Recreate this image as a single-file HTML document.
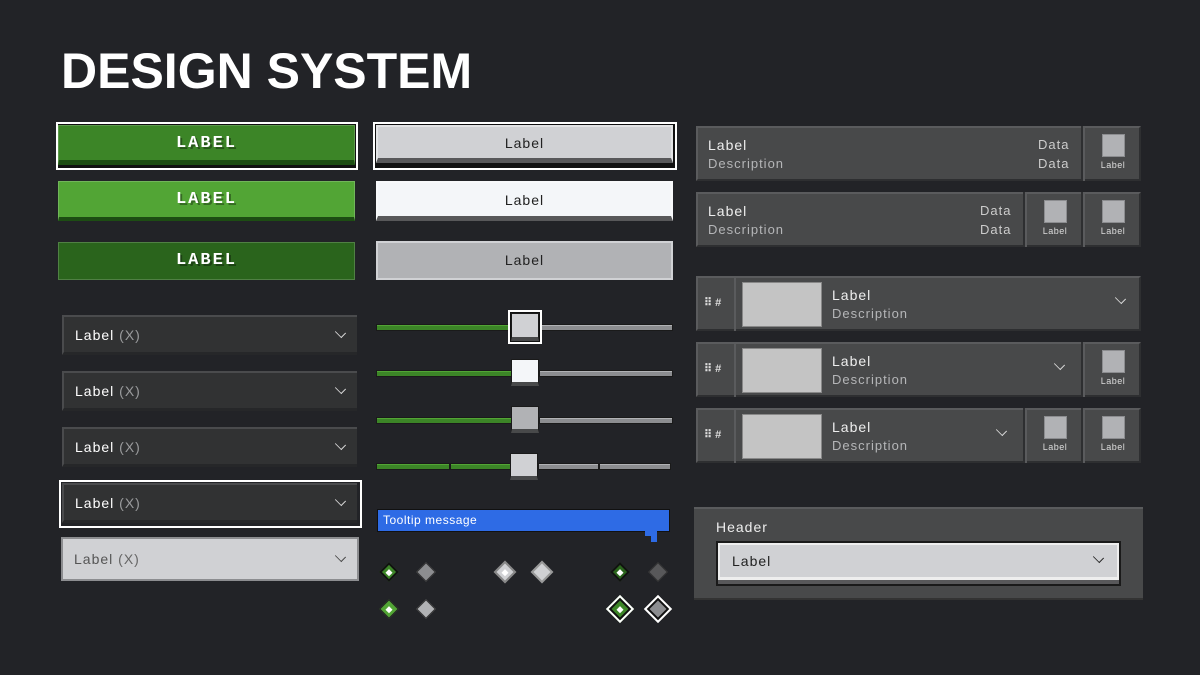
<!DOCTYPE html>
<html><head><meta charset="utf-8"><style>
*{box-sizing:border-box;margin:0;padding:0}
body{width:1200px;height:675px;background:#222327;position:relative;overflow:hidden;font-family:"Liberation Sans",sans-serif;color:#fff}
.a{position:absolute}
.title{left:61px;top:46px;font-size:50px;font-weight:bold;line-height:50px;letter-spacing:0}
.gb{position:absolute;left:58px;width:297px;text-align:center;font-weight:bold;font-size:17px;letter-spacing:2px;font-family:"Liberation Mono",monospace;text-shadow:2px 2px 0 rgba(0,0,0,.35);border:1px solid rgba(255,255,255,.18)}
.wb{position:absolute;left:376px;width:297px;text-align:center;font-size:14px;color:#222;letter-spacing:1px;border:2px solid rgba(255,255,255,.4)}
.dd{position:absolute;left:62px;width:295px;height:40px;background:#313233;border-top:2px solid #4a4b4d;border-left:2px solid #4a4b4d;border-bottom:3px solid #262729;font-size:14px;letter-spacing:1px;line-height:36px;padding-left:11px}
.dd span{color:#9a9b9d}
.chev{position:absolute;right:12px;top:11px;width:9px;height:9px;border-right:1.5px solid #ddd;border-bottom:1.5px solid #ddd;transform:rotate(45deg) scale(1,.75)}
.trk{position:absolute;height:7px;border:1px solid #1a1a1a}
.g{background:#3c8527;box-shadow:inset 0 1px 0 #52a535}
.gr{background:#8c8d90;box-shadow:inset 0 1px 0 #b1b2b5}
.th{position:absolute;width:28px;height:26px;border:1px solid #1a1a1a;border-bottom:4px solid #48494a}
.row{position:absolute;left:696px;width:445px;height:55px;background:#48494a;border:2px solid #5a5b5d;border-bottom-color:#2e2f31;border-right-color:#2e2f31}
.l1{position:absolute;font-size:14px;letter-spacing:1px;color:#eee}
.l2{position:absolute;font-size:13px;letter-spacing:1px;color:#b5b6b8}
.cell{position:absolute;top:-2px;height:55px;width:58px;border-left:2px solid #5a5b5d;box-shadow:-2px 0 0 #2e2f31}
.cell i{position:absolute;left:17px;top:8px;width:23px;height:23px;background:#b1b2b5;border:1px solid #8c8d90}
.cell b{position:absolute;width:100%;top:34px;text-align:center;font-size:9px;font-weight:normal;color:#ddd;letter-spacing:.5px}
.img{position:absolute;left:44px;top:4px;width:80px;height:45px;background:#c4c4c4;border:1px solid #888}
.hd{position:absolute;left:0;top:-2px;width:38px;height:55px;border-right:2px solid #5a5b5d;font-size:11px;line-height:55px;padding-left:6px;font-weight:bold;color:#ddd}
.dm{position:absolute;width:14px;height:14px;transform:rotate(45deg)}
</style></head><body>
<div class="a title">DESIGN SYSTEM</div>

<div class="a" style="left:56px;top:122px;width:302px;height:48px;border:2px solid #fff;background:#111"></div>
<div class="gb" style="top:125px;height:40px;background:#3c8527;border-bottom:5px solid #1d4d13;line-height:36px">LABEL</div>
<div class="gb" style="top:181px;height:40px;background:#52a535;border-bottom:4px solid #1d4d13;line-height:36px">LABEL</div>
<div class="gb" style="top:242px;height:38px;background:#2a641c;line-height:36px">LABEL</div>

<div class="a" style="left:373px;top:122px;width:304px;height:48px;border:2px solid #fff;background:#111"></div>
<div class="wb" style="top:125px;height:38px;background:#d0d1d4;border-bottom:5px solid #58585a;line-height:33px">Label</div>
<div class="wb" style="top:181px;height:40px;background:#f4f6f9;border-bottom:5px solid #58585a;line-height:35px">Label</div>
<div class="wb" style="top:241px;height:39px;background:#b1b2b5;line-height:35px;border-color:#d0d1d4">Label</div>

<div class="dd" style="top:315px">Label <span>(X)</span><div class="chev"></div></div>
<div class="dd" style="top:371px">Label <span>(X)</span><div class="chev"></div></div>
<div class="dd" style="top:427px">Label <span>(X)</span><div class="chev"></div></div>
<div class="a" style="left:59px;top:480px;width:303px;height:48px;border:2px solid #fff"></div>
<div class="dd" style="top:483px">Label <span>(X)</span><div class="chev"></div></div>
<div class="dd" style="left:61px;top:537px;width:298px;height:44px;background:#d0d1d4;border:2px solid #8c8d90;color:#555;line-height:40px">Label <span style="color:#666">(X)</span><div class="chev" style="border-color:#444;top:13px"></div></div>

<!-- sliders -->
<div class="trk g" style="left:376px;top:324px;width:136px"></div><div class="trk gr" style="left:540px;top:324px;width:133px"></div>
<div class="a" style="left:508px;top:310px;width:34px;height:34px;border:2px solid #fff;background:#111"></div>
<div class="th" style="left:511px;top:313px;width:28px;height:28px;background:#d0d1d4"></div>
<div class="trk g" style="left:376px;top:370px;width:136px"></div><div class="trk gr" style="left:539px;top:370px;width:134px"></div>
<div class="th" style="left:511px;top:359px;height:27px;background:#f4f6f9"></div>
<div class="trk g" style="left:376px;top:417px;width:136px"></div><div class="trk gr" style="left:539px;top:417px;width:134px"></div>
<div class="th" style="left:511px;top:406px;height:27px;background:#b1b2b5"></div>
<div class="trk g" style="left:376px;top:463px;width:74px"></div><div class="trk g" style="left:450px;top:463px;width:61px"></div>
<div class="trk gr" style="left:538px;top:463px;width:61px"></div><div class="trk gr" style="left:599px;top:463px;width:72px"></div>
<div class="th" style="left:510px;top:453px;height:27px;background:#d0d1d4"></div>

<!-- tooltip -->
<div class="a" style="left:377px;top:509px;width:293px;height:23px;background:#2e6be5;border:1px solid #111;font-size:12px;line-height:21px;padding-left:5px;letter-spacing:.5px">Tooltip message</div>
<div class="a" style="left:645px;top:530px;width:12px;height:6px;background:#2e6be5"></div>
<div class="a" style="left:651px;top:535px;width:6px;height:7px;background:#2e6be5"></div>

<!-- diamonds -->
<div class="dm" style="left:382px;top:565px;background:#3c8527;border:2px solid #111"><div style="position:absolute;left:3px;top:3px;width:5px;height:5px;background:#fff"></div></div>
<div class="dm" style="left:419px;top:565px;background:#8c8d90;border:1px solid #333"></div>
<div class="dm" style="left:497px;top:564px;width:16px;height:16px;background:#d0d1d4;border:2px solid #888"><div style="position:absolute;left:4px;top:4px;width:5px;height:5px;background:#fff"></div></div>
<div class="dm" style="left:534px;top:564px;width:16px;height:16px;background:#d0d1d4;border:2px solid #999"></div>
<div class="dm" style="left:613px;top:565px;background:#2a641c;border:2px solid #111"><div style="position:absolute;left:3px;top:3px;width:5px;height:5px;background:#fff"></div></div>
<div class="dm" style="left:651px;top:565px;background:#58585a;border:1px solid #333"></div>
<div class="dm" style="left:382px;top:602px;background:#52a535;border:1px solid #222"><div style="position:absolute;left:4px;top:4px;width:5px;height:5px;background:#fff"></div></div>
<div class="dm" style="left:419px;top:602px;background:#b1b2b5;border:1px solid #333"></div>
<div class="dm" style="left:610px;top:599px;width:20px;height:20px;background:#3c8527;border:2px solid #fff;box-shadow:inset 0 0 0 2px #111"><div style="position:absolute;left:6px;top:6px;width:5px;height:5px;background:#fff"></div></div>
<div class="dm" style="left:648px;top:599px;width:20px;height:20px;background:#8c8d90;border:2px solid #fff;box-shadow:inset 0 0 0 2px #111"></div>

<!-- right rows -->
<div class="row" style="top:126px">
 <div class="l1" style="left:10px;top:9px">Label</div><div class="l2" style="left:10px;top:28px">Description</div>
 <div class="l2" style="left:340px;top:9px;color:#ccc">Data</div><div class="l2" style="left:340px;top:28px;color:#ccc">Data</div>
 <div class="cell" style="left:385px"><i></i><b>Label</b></div>
</div>
<div class="row" style="top:192px">
 <div class="l1" style="left:10px;top:9px">Label</div><div class="l2" style="left:10px;top:28px">Description</div>
 <div class="l2" style="left:282px;top:9px;color:#ccc">Data</div><div class="l2" style="left:282px;top:28px;color:#ccc">Data</div>
 <div class="cell" style="left:327px"><i></i><b>Label</b></div>
 <div class="cell" style="left:385px"><i></i><b>Label</b></div>
</div>
<div class="row" style="top:276px">
 <div class="hd">⠿ #</div><div class="img"></div>
 <div class="l1" style="left:134px;top:9px">Label</div><div class="l2" style="left:134px;top:28px">Description</div>
 <div class="chev" style="right:14px;top:16px"></div>
</div>
<div class="row" style="top:342px">
 <div class="hd">⠿ #</div><div class="img"></div>
 <div class="l1" style="left:134px;top:9px">Label</div><div class="l2" style="left:134px;top:28px">Description</div>
 <div class="chev" style="right:75px;top:16px"></div>
 <div class="cell" style="left:385px"><i></i><b>Label</b></div>
</div>
<div class="row" style="top:408px">
 <div class="hd">⠿ #</div><div class="img"></div>
 <div class="l1" style="left:134px;top:9px">Label</div><div class="l2" style="left:134px;top:28px">Description</div>
 <div class="chev" style="right:133px;top:16px"></div>
 <div class="cell" style="left:327px"><i></i><b>Label</b></div>
 <div class="cell" style="left:385px"><i></i><b>Label</b></div>
</div>

<div class="a" style="left:694px;top:507px;width:449px;height:93px;background:#48494a;border-top:2px solid #5a5b5d;border-bottom:2px solid #333"></div>
<div class="l1" style="left:716px;top:519px">Header</div>
<div class="a" style="left:716px;top:541px;width:405px;height:45px;background:#1a1a1a"></div>
<div class="a" style="left:718px;top:543px;width:401px;height:37px;background:#d0d1d4;border:2px solid #eee;border-bottom:3px solid #eee;color:#222;font-size:14px;letter-spacing:1px;line-height:32px;padding-left:12px">Label<div class="chev" style="border-color:#222;top:8px;right:14px"></div></div>
<div class="a" style="left:718px;top:580px;width:401px;height:4px;background:#58585a"></div>
</body></html>
